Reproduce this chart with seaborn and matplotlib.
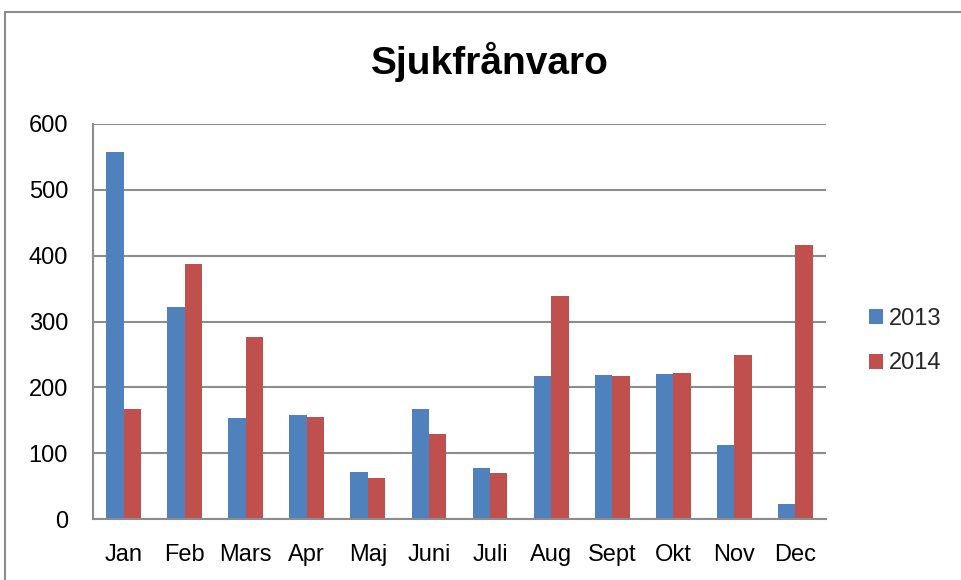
import pandas as pd
import numpy as np
import matplotlib.pyplot as plt
import seaborn as sns
from matplotlib.patches import Rectangle

# Sjukfrånvaro per månad
months = ['Jan', 'Feb', 'Mars', 'Apr', 'Maj', 'Juni', 'Juli', 'Aug', 'Sept', 'Okt', 'Nov', 'Dec']
years = ['2013', '2014']
sick_2013 = [557, 322, 154, 158, 72, 167, 78, 217, 219, 221, 112, 23]
sick_2014 = [167, 387, 276, 155, 63, 129, 70, 339, 217, 222, 249, 416]
colors = ['#4F81BD', '#C0504D']

df = pd.DataFrame({
    'month': months * 2,
    'year': [years[0]] * len(months) + [years[1]] * len(months),
    'value': sick_2013 + sick_2014,
})

sns.set_style('white')
plt.rcParams['font.family'] = ['Liberation Sans', 'DejaVu Sans']

fig = plt.figure(figsize=(9.62, 5.8), dpi=100)
ax = fig.add_axes([93 / 962, 61 / 580, 733 / 962, 395 / 580])

sns.barplot(data=df, x='month', y='value', hue='year', order=months, hue_order=years,
            palette=colors, width=0.57, gap=0, ax=ax, saturation=1, legend=True,
            linewidth=0)

ax.set_ylim(0, 600)
ax.set_xlim(-0.5, 11.5)
ax.set_yticks(range(0, 601, 100))
ax.yaxis.grid(True, color='#8c8c8c', linewidth=1.5)
ax.set_axisbelow(True)
ax.set_xlabel('')
ax.set_ylabel('')
ax.tick_params(axis='both', labelsize=17, length=0, colors='black')
ax.tick_params(axis='x', pad=18)
ax.tick_params(axis='y', pad=18)
for side in ['top', 'right']:
    ax.spines[side].set_visible(False)
for side in ['left', 'bottom']:
    ax.spines[side].set_color('#8c8c8c')
    ax.spines[side].set_linewidth(1.5)

ax.legend(frameon=False, fontsize=17, loc='center left', bbox_to_anchor=(1.03, 0.45),
          handlelength=0.6, handleheight=0.6, handletextpad=0.25, labelspacing=0.95)

fig.text(490 / 962, 1 - 62 / 580, 'Sjukfrånvaro', ha='center', va='center',
         fontsize=28, fontweight='bold', color='black')

# ram runt diagrammet
fig.patches.append(Rectangle((5 / 962, -0.05), 1.0, 1 - 12 / 580 + 0.05, transform=fig.transFigure,
                             fill=False, edgecolor='#8c8c8c', linewidth=1.5))

fig.savefig('out.png', dpi=100)
